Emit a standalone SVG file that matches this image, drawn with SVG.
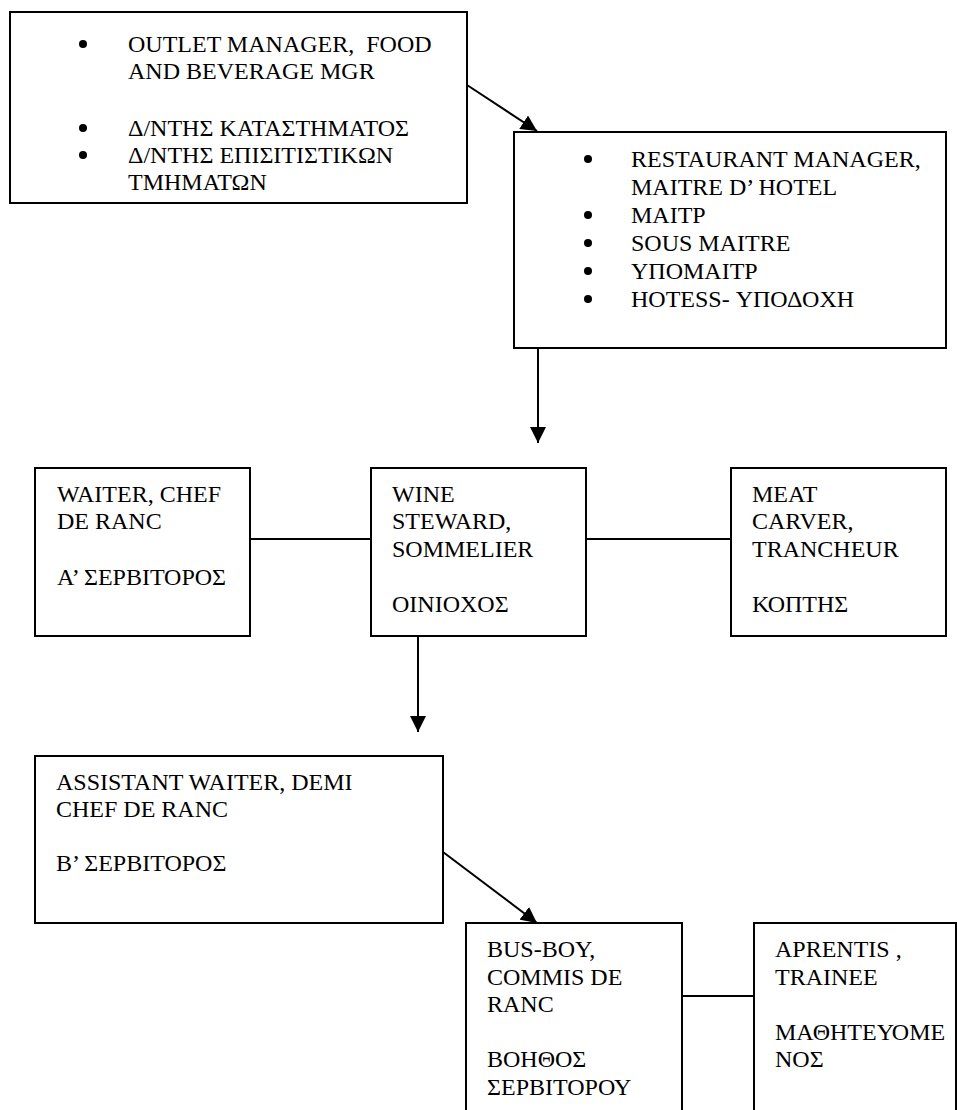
<svg xmlns="http://www.w3.org/2000/svg" width="957" height="1110" viewBox="0 0 957 1110">
<style>
text{font-family:"Liberation Serif","Times New Roman","DejaVu Serif",serif;font-size:24px;fill:#000;white-space:pre}
.dot{fill:#000}
.box{fill:#fff;stroke:#000;stroke-width:2}
.ln{stroke:#000;stroke-width:2;fill:none}
</style>
<defs>
<marker id="ah" markerUnits="userSpaceOnUse" markerWidth="16" markerHeight="16" viewBox="0 0 16 16" refX="16" refY="8" orient="auto">
<path d="M0,0 L16,8 L0,16 z" fill="#000"/>
</marker>
</defs>
<rect width="957" height="1110" fill="#fff"/>
<g id="connectors">
<line class="ln" x1="467" y1="85" x2="537" y2="131" marker-end="url(#ah)"/>
<line class="ln" x1="538" y1="348" x2="538" y2="443" marker-end="url(#ah)"/>
<line class="ln" x1="250" y1="539" x2="371" y2="539"/>
<line class="ln" x1="586" y1="539" x2="731" y2="539"/>
<line class="ln" x1="418" y1="636" x2="418" y2="732" marker-end="url(#ah)"/>
<line class="ln" x1="443" y1="852" x2="537" y2="923" marker-end="url(#ah)"/>
<line class="ln" x1="682" y1="996" x2="754" y2="996"/>
</g>
<g id="outlet-manager">
<rect class="box" x="10" y="12" width="457" height="191"/>
<circle class="dot" cx="83" cy="44" r="4"/><text x="128" y="52">OUTLET MANAGER,  FOOD</text>
<text x="128" y="79">AND BEVERAGE MGR</text>
<circle class="dot" cx="83" cy="128" r="4"/><text x="128" y="136">Δ/ΝΤΗΣ ΚΑΤΑΣΤΗΜΑΤΟΣ</text>
<circle class="dot" cx="83" cy="155" r="4"/><text x="128" y="163">Δ/ΝΤΗΣ ΕΠΙΣΙΤΙΣΤΙΚΩΝ</text>
<text x="128" y="190">ΤΜΗΜΑΤΩΝ</text>
</g>
<g id="restaurant-manager">
<rect class="box" x="514" y="132" width="432" height="216"/>
<circle class="dot" cx="588" cy="159" r="4"/><text x="631" y="167">RESTAURANT MANAGER,</text>
<text x="631" y="195">MAITRE D’ HOTEL</text>
<circle class="dot" cx="588" cy="215" r="4"/><text x="631" y="223">ΜΑΙΤΡ</text>
<circle class="dot" cx="588" cy="243" r="4"/><text x="631" y="251">SOUS MAITRE</text>
<circle class="dot" cx="588" cy="271" r="4"/><text x="631" y="279">ΥΠΟΜΑΙΤΡ</text>
<circle class="dot" cx="588" cy="299" r="4"/><text x="631" y="307">HOTESS- ΥΠΟΔΟΧΗ</text>
</g>
<g id="waiter">
<rect class="box" x="35" y="468" width="215" height="168"/>
<text x="57" y="502">WAITER, CHEF</text>
<text x="57" y="529">DE RANC</text>
<text x="57" y="585">Α’ ΣΕΡΒΙΤΟΡΟΣ</text>
</g>
<g id="wine-steward">
<rect class="box" x="371" y="468" width="215" height="168"/>
<text x="392" y="502">WINE</text>
<text x="392" y="529">STEWARD,</text>
<text x="392" y="557">SOMMELIER</text>
<text x="392" y="612">ΟΙΝΙΟΧΟΣ</text>
</g>
<g id="meat-carver">
<rect class="box" x="731" y="468" width="215" height="168"/>
<text x="752" y="502">MEAT</text>
<text x="752" y="529">CARVER,</text>
<text x="752" y="557">TRANCHEUR</text>
<text x="752" y="612">ΚΟΠΤΗΣ</text>
</g>
<g id="assistant-waiter">
<rect class="box" x="35" y="756" width="408" height="167"/>
<text x="56" y="790">ASSISTANT WAITER, DEMI</text>
<text x="56" y="817">CHEF DE RANC</text>
<text x="56" y="871">Β’ ΣΕΡΒΙΤΟΡΟΣ</text>
</g>
<g id="bus-boy">
<rect class="box" x="466" y="923" width="216" height="200"/>
<text x="487" y="957">BUS-BOY,</text>
<text x="487" y="985">COMMIS DE</text>
<text x="487" y="1012">RANC</text>
<text x="487" y="1067">ΒΟΗΘΟΣ</text>
<text x="487" y="1095">ΣΕΡΒΙΤΟΡΟΥ</text>
</g>
<g id="apprentice">
<rect class="box" x="754" y="923" width="202" height="200"/>
<text x="775" y="957">APRENTIS ,</text>
<text x="775" y="985">TRAINEE</text>
<text x="775" y="1040">ΜΑΘΗΤΕΥΟΜΕ</text>
<text x="775" y="1067">ΝΟΣ</text>
</g>
</svg>
